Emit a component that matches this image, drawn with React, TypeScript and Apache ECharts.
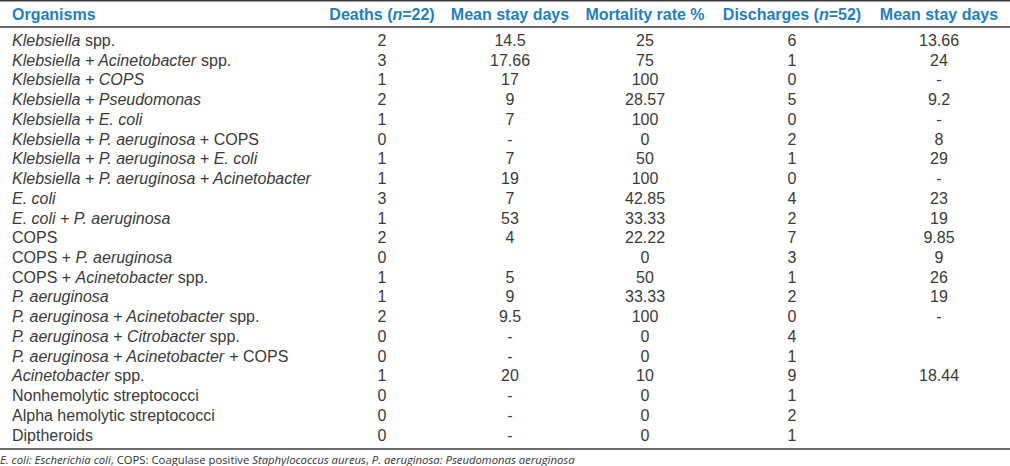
import React, { useEffect, useRef } from "react";
import * as echarts from "echarts";

// Column headers ({hi|...} marks italic parts)
const headers: string[] = [
  "Organisms",
  "Deaths ({hi|n}=22)",
  "Mean stay days",
  "Mortality rate %",
  "Discharges ({hi|n}=52)",
  "Mean stay days",
];

const organisms: string[] = [
  "{i|Klebsiella} spp.",
  "{i|Klebsiella + Acinetobacter} spp.",
  "{i|Klebsiella + COPS}",
  "{i|Klebsiella + Pseudomonas}",
  "{i|Klebsiella + E. coli}",
  "{i|Klebsiella + P. aeruginosa} + COPS",
  "{i|Klebsiella + P. aeruginosa + E. coli}",
  "{i|Klebsiella + P. aeruginosa + Acinetobacter}",
  "{i|E. coli}",
  "{i|E. coli + P. aeruginosa}",
  "COPS",
  "COPS + {i|P. aeruginosa}",
  "COPS + {i|Acinetobacter} spp.",
  "{i|P. aeruginosa}",
  "{i|P. aeruginosa + Acinetobacter} spp.",
  "{i|P. aeruginosa + Citrobacter} spp.",
  "{i|P. aeruginosa + Acinetobacter} + COPS",
  "{i|Acinetobacter} spp.",
  "Nonhemolytic streptococci",
  "Alpha hemolytic streptococci",
  "Diptheroids",
];

const deaths: string[] = ["2", "3", "1", "2", "1", "0", "1", "1", "3", "1", "2", "0", "1", "1", "2", "0", "0", "1", "0", "0", "0"];
const deathStay: string[] = ["14.5", "17.66", "17", "9", "7", "-", "7", "19", "7", "53", "4", "", "5", "9", "9.5", "-", "-", "20", "-", "-", "-"];
const mortality: string[] = ["25", "75", "100", "28.57", "100", "0", "50", "100", "42.85", "33.33", "22.22", "0", "50", "33.33", "100", "0", "0", "10", "0", "0", "0"];
const discharges: string[] = ["6", "1", "0", "5", "0", "2", "1", "0", "4", "2", "7", "3", "1", "2", "0", "4", "1", "9", "1", "2", "1"];
const dischargeStay: string[] = ["13.66", "24", "-", "9.2", "-", "8", "29", "-", "23", "19", "9.85", "9", "26", "19", "-", "", "", "18.44", "", "", ""];

const footnote =
  "{fi|E. coli: Escherichia coli}{f|, COPS: Coagulase positive }{fi|Staphylococcus aureus}{f|, }{fi|P. aeruginosa: Pseudomonas aeruginosa}";

// Layout
const W = 1010;
const H = 466;
const COL_X = [12, 382, 510, 645, 792, 939];
const HEADER_Y = 14;
const ROW_Y0 = 40.5;
const ROW_H = 19.73;
const FONT = '"Liberation Sans", Arial, sans-serif';
const FS = 16;
const TEXT_COLOR = "#3a3a3a";
const HEAD_COLOR = "#1f80be";
const LINE_COLOR = "#3a3a3a";
const FOOT_FS = 11.3;

export default function App() {
  const ref = useRef<HTMLDivElement>(null);
  useEffect(() => {
    if (!ref.current) return;
    const chart = echarts.init(ref.current, undefined, { renderer: "svg" });
    const normal = `${FS}px ${FONT}`;
    const italic = `italic ${FS}px ${FONT}`;
    const bold = `bold ${FS}px ${FONT}`;
    const boldItalic = `italic bold ${FS}px ${FONT}`;
    const elements: any[] = [];

    const hline = (y: number, w: number) =>
      elements.push({
        type: "line",
        shape: { x1: 0, y1: y, x2: W, y2: y },
        style: { stroke: LINE_COLOR, lineWidth: w },
      });
    hline(0.75, 1.5);
    hline(27, 1.5);
    hline(449, 1.5);

    headers.forEach((h, ci) => {
      elements.push({
        type: "text",
        x: COL_X[ci],
        y: HEADER_Y,
        style: {
          text: h,
          font: bold,
          fill: HEAD_COLOR,
          textAlign: ci === 0 ? "left" : "center",
          textVerticalAlign: "middle",
          rich: { hi: { font: boldItalic, fill: HEAD_COLOR } },
        },
      });
    });

    const cols = [organisms, deaths, deathStay, mortality, discharges, dischargeStay];
    organisms.forEach((_, ri) => {
      cols.forEach((col, ci) => {
        const t = col[ri];
        if (!t) return;
        elements.push({
          type: "text",
          x: COL_X[ci],
          y: ROW_Y0 + ri * ROW_H,
          style: {
            text: t,
            font: normal,
            fill: TEXT_COLOR,
            textAlign: ci === 0 ? "left" : "center",
            textVerticalAlign: "middle",
            rich: { i: { font: italic, fill: TEXT_COLOR } },
          },
        });
      });
    });

    const ff = `"Open Sans", sans-serif`;
    elements.push({
      type: "text",
      x: 0,
      y: 459,
      style: {
        text: footnote,
        font: `${FOOT_FS}px ${ff}`,
        fill: "#333",
        textAlign: "left",
        textVerticalAlign: "middle",
        rich: {
          f: { font: `${FOOT_FS}px ${ff}`, fill: "#333" },
          fi: { font: `italic ${FOOT_FS}px ${ff}`, fill: "#333" },
        },
      },
    });

    chart.setOption({
      animation: false,
      backgroundColor: "#ffffff",
      graphic: { elements },
    });
    return () => chart.dispose();
  }, []);
  return (
    <div
      ref={ref}
      style={{ position: "fixed", left: 0, top: 0, width: W, height: H }}
    />
  );
}
